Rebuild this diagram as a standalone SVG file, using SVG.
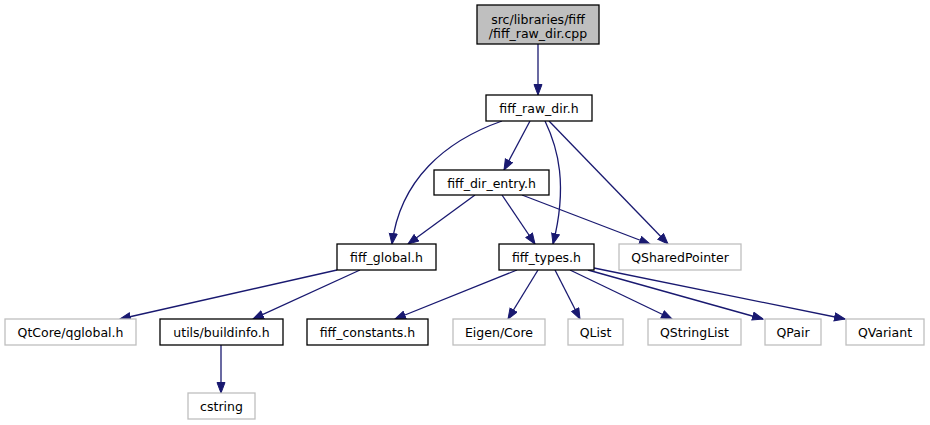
<svg xmlns="http://www.w3.org/2000/svg" width="930" height="425" viewBox="0 0 930 425">
<style>
.n rect{fill:#ffffff;stroke:#000000;stroke-width:1.3}
.n.g rect{stroke:#bfbfbf}
.n.root rect{fill:#bfbfbf}
.n text{font-family:"DejaVu Sans",sans-serif;font-size:12.5px;text-anchor:middle;fill:#000000}
#edges path{fill:none;stroke:#191970;stroke-width:1.3;marker-end:url(#arr)}
</style>
<defs>
<marker id="arr" markerUnits="userSpaceOnUse" markerWidth="13" markerHeight="10" refX="11" refY="4.5" orient="auto">
<path d="M0.5,0.5 L11,4.5 L0.5,8.5 z" fill="#191970" stroke="#191970" stroke-width="1"/>
</marker>
</defs>
<rect width="930" height="425" fill="#ffffff"/>
<g id="edges">
<path d="M538,44 L538,95"/>
<path d="M502,121 C445,141 400,180 392,244"/>
<path d="M530,121 L504,170"/>
<path d="M545,121 C558,148 568,185 553,244"/>
<path d="M549,121 L668,244"/>
<path d="M475,195 L408,244"/>
<path d="M502,195 L535,244"/>
<path d="M522,195 L650,244"/>
<path d="M337,270 L120,319"/>
<path d="M360,270 L253,319"/>
<path d="M221,345 L221,393"/>
<path d="M517,270 L395,319"/>
<path d="M538,270 L508,319"/>
<path d="M555,270 L580,319"/>
<path d="M570,270 L672,319"/>
<path d="M588,270 L763,319"/>
<path d="M594,268 L845,319"/>
</g>
<g id="n_root" class="n root"><rect x="477" y="5" width="122" height="39"/><text x="538" y="24">src/libraries/fiff</text><text x="538" y="38">/fiff_raw_dir.cpp</text></g>
<g id="n_fiff_raw_dir" class="n"><rect x="486" y="95" width="106" height="26"/><text x="539" y="113">fiff_raw_dir.h</text></g>
<g id="n_fiff_dir_entry" class="n"><rect x="434" y="170" width="115" height="25"/><text x="491.5" y="187.5">fiff_dir_entry.h</text></g>
<g id="n_fiff_global" class="n"><rect x="337" y="244" width="99" height="26"/><text x="386.5" y="262">fiff_global.h</text></g>
<g id="n_fiff_types" class="n"><rect x="499" y="244" width="95" height="26"/><text x="546.5" y="262">fiff_types.h</text></g>
<g id="n_qsharedpointer" class="n g"><rect x="619" y="244" width="122" height="26"/><text x="680" y="262">QSharedPointer</text></g>
<g id="n_qglobal" class="n g"><rect x="5" y="319" width="131" height="26"/><text x="70.5" y="337">QtCore/qglobal.h</text></g>
<g id="n_buildinfo" class="n"><rect x="160" y="319" width="123" height="26"/><text x="221.5" y="337">utils/buildinfo.h</text></g>
<g id="n_fiff_constants" class="n"><rect x="307" y="319" width="121" height="26"/><text x="367.5" y="337">fiff_constants.h</text></g>
<g id="n_eigen" class="n g"><rect x="453" y="319" width="92" height="26"/><text x="499" y="337">Eigen/Core</text></g>
<g id="n_qlist" class="n g"><rect x="568" y="319" width="55" height="26"/><text x="595.5" y="337">QList</text></g>
<g id="n_qstringlist" class="n g"><rect x="648" y="319" width="93" height="26"/><text x="694.5" y="337">QStringList</text></g>
<g id="n_qpair" class="n g"><rect x="765" y="319" width="56" height="26"/><text x="793" y="337">QPair</text></g>
<g id="n_qvariant" class="n g"><rect x="846" y="319" width="78" height="26"/><text x="885" y="337">QVariant</text></g>
<g id="n_cstring" class="n g"><rect x="188" y="393" width="67" height="26"/><text x="221.5" y="411">cstring</text></g>
</svg>
